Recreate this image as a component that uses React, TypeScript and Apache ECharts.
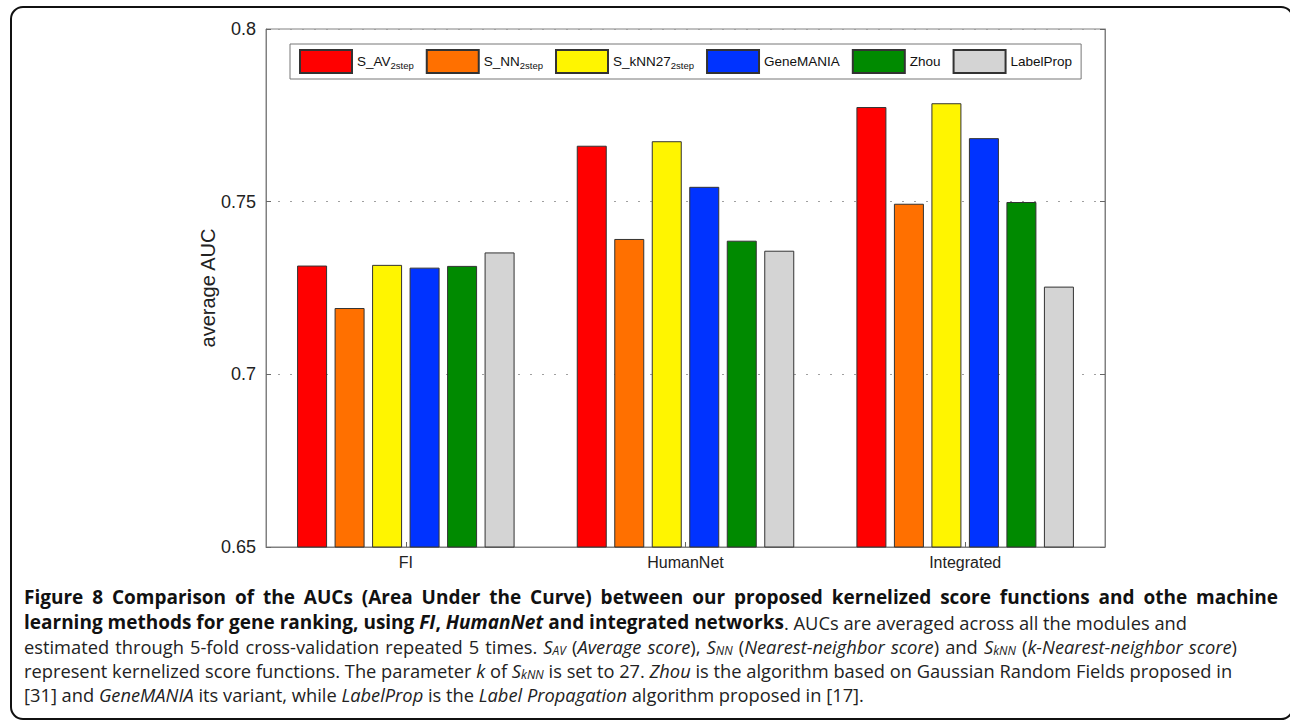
import React, { useEffect, useRef } from "react";
import * as echarts from "echarts";

const categories = ["FI", "HumanNet", "Integrated"];
const seriesNames = ["S_AV", "S_NN", "S_kNN27", "GeneMANIA", "Zhou", "LabelProp"];
const seriesSubs = ["2step", "2step", "2step", "", "", ""];
const seriesColors = ["#ff0000", "#ff7000", "#fff500", "#0033ff", "#008a00", "#d4d4d4"];
const sAV = [0.7315, 0.7662, 0.7774];
const sNN = [0.7192, 0.7392, 0.7494];
const sKNN27 = [0.7317, 0.7675, 0.7785];
const geneMANIA = [0.7309, 0.7543, 0.7684];
const zhou = [0.7314, 0.7387, 0.7499];
const labelProp = [0.7353, 0.7358, 0.7254];
const seriesValues = [sAV, sNN, sKNN27, geneMANIA, zhou, labelProp];
const yMin = 0.65;
const yMax = 0.8;
const yStep = 0.05;

// caption lines: [style, text]
const captionLines: [string, string][][] = [
  [["b", "Figure 8 Comparison of the AUCs (Area Under the Curve) between our proposed kernelized score functions and othe machine"]],
  [
    ["b", "learning methods for gene ranking, using "],
    ["bi", "FI"],
    ["b", ", "],
    ["bi", "HumanNet"],
    ["b", " and integrated networks"],
    ["n", ". AUCs are averaged across all the modules and"],
  ],
  [
    ["n", "estimated through 5-fold cross-validation repeated 5 times. "],
    ["i", "S"], ["sub", "AV"],
    ["n", " ("], ["i", "Average score"], ["n", "), "],
    ["i", "S"], ["sub", "NN"],
    ["n", " ("], ["i", "Nearest-neighbor score"], ["n", ") and "],
    ["i", "S"], ["sub", "kNN"],
    ["n", " ("], ["i", "k-Nearest-neighbor score"], ["n", ")"],
  ],
  [
    ["n", "represent kernelized score functions. The parameter "],
    ["i", "k"], ["n", " of "], ["i", "S"], ["sub", "kNN"],
    ["n", " is set to 27. "], ["i", "Zhou"],
    ["n", " is the algorithm based on Gaussian Random Fields proposed in"],
  ],
  [
    ["n", "[31] and "], ["i", "GeneMANIA"], ["n", " its variant, while "],
    ["i", "LabelProp"], ["n", " is the "], ["i", "Label Propagation"],
    ["n", " algorithm proposed in [17]."],
  ],
];
// right edge of each caption line (null = natural width) and which styles get stretched spaces
const captionTargets: (number | null)[] = [1278, null, 1237, null, null];
const captionStretch: string[][] = [["b"], [], ["n", "i"], [], []];
const captionY = [597, 622, 646, 670, 694];

const CAP_FONT = "'Open Sans', 'Noto Sans', sans-serif";
const styleDefs: Record<string, { size: number; bold?: boolean; italic?: boolean; fill: string }> = {
  b: { size: 19, bold: true, fill: "#111" },
  bi: { size: 19, bold: true, italic: true, fill: "#111" },
  n: { size: 18.3, fill: "#222" },
  i: { size: 18.3, italic: true, fill: "#222" },
  sub: { size: 12, italic: true, fill: "#222" },
};

function fontStr(s: { size: number; bold?: boolean; italic?: boolean }) {
  return `${s.italic ? "italic " : ""}${s.bold ? "bold " : ""}${s.size}px ${CAP_FONT}`;
}

function richFor(name: string, extra?: Record<string, unknown>) {
  const d = styleDefs[name];
  const base: Record<string, unknown> = {
    fontFamily: CAP_FONT,
    fontSize: d.size,
    fontWeight: d.bold ? "bold" : "normal",
    fontStyle: d.italic ? "italic" : "normal",
    fill: d.fill,
    lineHeight: name === "sub" ? 10 : 20,
  };
  if (name === "sub") base.verticalAlign = "bottom";
  return { ...base, ...(extra || {}) };
}

function buildCaptionLine(idx: number, ctx: CanvasRenderingContext2D | null) {
  const parts = captionLines[idx];
  const target = captionTargets[idx];
  const stretch = captionStretch[idx];
  const rich: Record<string, unknown> = {};
  Object.keys(styleDefs).forEach((k) => (rich[k] = richFor(k)));
  if (target === null || !ctx) {
    return { text: parts.map(([s, t]) => `{${s}|${t}}`).join(""), rich };
  }
  let natural = 0;
  const spaceNat: Record<string, number> = {};
  let count = 0;
  parts.forEach(([s, t]) => {
    ctx.font = fontStr(styleDefs[s]);
    natural += ctx.measureText(t).width;
    if (stretch.includes(s)) {
      spaceNat[s] = ctx.measureText(" ").width;
      count += (t.match(/ /g) || []).length;
    }
  });
  const extra = count > 0 ? (target - 24 - natural) / count : 0;
  stretch.forEach((s) => {
    rich[s + "sp"] = richFor(s, { width: Math.max(2, (spaceNat[s] || 4) + extra) });
  });
  const text = parts
    .map(([s, t]) => {
      if (!stretch.includes(s)) return `{${s}|${t}}`;
      return t
        .split(" ")
        .map((w) => (w.length ? `{${s}|${w}}` : ""))
        .join(`{${s}sp| }`);
    })
    .join("");
  return { text, rich };
}

export default function App() {
  const ref = useRef<HTMLDivElement>(null);
  useEffect(() => {
    if (!ref.current) return;
    const chart = echarts.init(ref.current, undefined, { renderer: "svg" });
    const canvas = document.createElement("canvas");
    const ctx = canvas.getContext("2d");
    const captionGraphics = captionLines.map((_, idx) => {
      const { text, rich } = buildCaptionLine(idx, ctx);
      return {
        type: "text",
        x: 24,
        y: captionY[idx],
        style: { text, rich, verticalAlign: "middle", fill: "#222" },
      };
    });
    const LF = "'Liberation Sans', Arial, sans-serif";
    chart.setOption({
      animation: false,
      backgroundColor: "#ffffff",
      grid: {
        left: 266,
        right: 185,
        top: 29,
        bottom: 174,
        show: true,
        borderColor: "#808080",
        borderWidth: 1,
      },
      legend: {
        left: 290,
        top: 44,
        orient: "horizontal",
        icon: "rect",
        itemWidth: 52,
        itemHeight: 23,
        itemGap: 12,
        padding: [5, 9, 5, 9],
        borderColor: "#777",
        borderWidth: 1,
        backgroundColor: "#ffffff",
        data: seriesNames,
        formatter: (name: string) => {
          const i = seriesNames.indexOf(name);
          const sub = seriesSubs[i];
          return sub ? `{m|${name}}{s|${sub}}` : `{m|${name}}`;
        },
        textStyle: {
          fontFamily: LF,
          fontSize: 13.5,
          color: "#111",
          rich: {
            m: { fontFamily: LF, fontSize: 13.5, color: "#111", lineHeight: 18 },
            s: { fontFamily: LF, fontSize: 9.5, color: "#111", lineHeight: 8, verticalAlign: "bottom" },
          },
        },
      },
      xAxis: {
        type: "category",
        data: categories,
        axisLine: { show: true, lineStyle: { color: "#808080", width: 1 } },
        axisTick: { show: true, inside: true, alignWithLabel: true, length: 5, lineStyle: { color: "#666" } },
        axisLabel: { fontFamily: LF, fontSize: 16, color: "#222", margin: 7 },
        splitLine: { show: false },
      },
      yAxis: [
        {
          type: "value",
          min: yMin,
          max: yMax,
          interval: yStep,
          position: "left",
          name: "average AUC",
          nameLocation: "middle",
          nameRotate: 90,
          nameGap: 48,
          nameMoveOverlap: false,
          nameTextStyle: { fontFamily: LF, fontSize: 20, color: "#222" },
          axisLine: { show: true, lineStyle: { color: "#808080", width: 1 } },
          axisTick: { show: true, inside: true, length: 5, lineStyle: { color: "#666" } },
          axisLabel: { fontFamily: LF, fontSize: 18, color: "#222", margin: 10 },
          splitLine: { show: true, lineStyle: { color: "#a0a0a0", type: [2, 10], width: 1 } },
        },
        {
          type: "value",
          min: yMin,
          max: yMax,
          interval: yStep,
          position: "right",
          axisLine: { show: true, lineStyle: { color: "#808080", width: 1 } },
          axisTick: { show: true, inside: true, length: 5, lineStyle: { color: "#666" } },
          axisLabel: { show: false },
          splitLine: { show: false },
        },
      ],
      series: seriesNames.map((name, i) => ({
        name,
        type: "bar",
        yAxisIndex: 0,
        data: seriesValues[i],
        barWidth: 30,
        barGap: "25%",
        itemStyle: { color: seriesColors[i], borderColor: "#333", borderWidth: 1 },
      })),
      graphic: [
        {
          type: "rect",
          shape: { x: 11, y: 7, width: 1282, height: 712, r: 12 },
          style: { fill: "none", stroke: "#111", lineWidth: 2 },
          silent: true,
        },
        ...captionGraphics,
      ],
    });
    return () => chart.dispose();
  }, []);
  return (
    <div
      ref={ref}
      style={{ position: "fixed", left: 0, top: 0, width: 1290, height: 721, background: "#fff" }}
    />
  );
}
